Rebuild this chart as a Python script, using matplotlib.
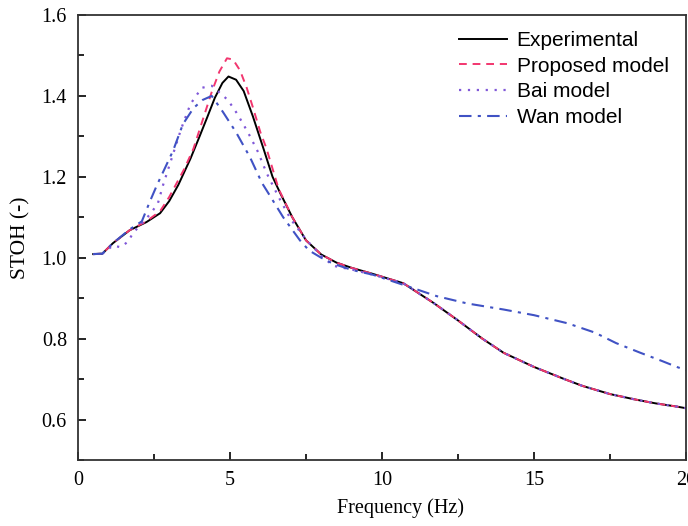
import numpy as np
import matplotlib
matplotlib.use("Agg")
import matplotlib.pyplot as plt
from matplotlib.ticker import MultipleLocator

# values
freq_exp = [0.5, 0.8, 1.15, 1.7, 2.25, 2.7, 3.0, 3.3, 3.7, 4.0, 4.25, 4.5, 4.75, 4.95,
            5.2, 5.45, 5.75, 6.1, 6.4, 6.65, 7.05, 7.5, 8.0, 8.5, 9.0, 9.7, 10.7, 11.7,
            12.5, 13.3, 14.0, 15.0, 16.0, 16.6, 17.5, 18.3, 19.0, 19.7, 20.0]
stoh_exp = [1.009, 1.01, 1.036, 1.068, 1.088, 1.11, 1.14, 1.18, 1.245, 1.30, 1.347, 1.395,
            1.432, 1.448, 1.44, 1.412, 1.35, 1.27, 1.20, 1.16, 1.10, 1.043, 1.008, 0.988,
            0.975, 0.96, 0.937, 0.888, 0.845, 0.80, 0.765, 0.73, 0.70, 0.683, 0.663, 0.65,
            0.64, 0.632, 0.628]

freq_prop = [0.5, 0.8, 1.15, 1.7, 2.25, 2.7, 3.0, 3.25, 3.5, 3.8, 4.1, 4.4, 4.65, 4.9,
             5.1, 5.33, 5.55, 5.76, 6.0, 6.2, 6.6, 7.05, 7.5, 8.0, 8.5, 9.0, 9.7, 10.7,
             11.7, 12.5, 13.3, 14.0, 15.0, 16.0, 16.6, 17.5, 18.3, 19.0, 19.7, 20.0]
stoh_prop = [1.009, 1.01, 1.036, 1.068, 1.09, 1.115, 1.15, 1.185, 1.22, 1.27, 1.34, 1.41,
             1.46, 1.493, 1.49, 1.463, 1.42, 1.37, 1.31, 1.27, 1.17, 1.10, 1.043, 1.008,
             0.988, 0.975, 0.96, 0.937, 0.888, 0.845, 0.80, 0.765, 0.73, 0.70, 0.683,
             0.663, 0.65, 0.64, 0.632, 0.628]

freq_bai = [0.5, 0.8, 1.15, 1.4, 1.65, 1.8, 2.1, 2.4, 2.63, 2.8, 3.1, 3.4, 3.7, 4.07,
            4.4, 4.7, 4.93, 5.2, 5.4, 5.66, 5.93, 6.2, 6.6, 7.0, 7.5, 8.0, 8.4, 9.05,
            9.7, 10.7, 11.7, 12.5, 13.3, 14.0, 15.0, 16.0, 16.6, 17.5, 18.3, 19.0,
            19.7, 20.0]
stoh_bai = [1.009, 1.01, 1.03, 1.026, 1.04, 1.06, 1.085, 1.11, 1.135, 1.18, 1.25, 1.32,
            1.38, 1.42, 1.425, 1.405, 1.39, 1.36, 1.335, 1.30, 1.26, 1.21, 1.15, 1.095,
            1.045, 1.005, 0.98, 0.97, 0.958, 0.937, 0.888, 0.845, 0.80, 0.765, 0.73,
            0.70, 0.683, 0.663, 0.65, 0.64, 0.632, 0.628]

freq_wan = [0.5, 0.8, 1.15, 1.7, 2.1, 2.37, 2.6, 2.85, 3.13, 3.45, 3.8, 4.1, 4.4, 4.77,
            5.2, 5.66, 6.05, 6.2, 6.75, 7.3, 7.6, 8.0, 8.4, 9.0, 9.7, 10.9, 11.8, 12.8,
            14.0, 15.0, 16.1, 17.0, 17.7, 18.5, 19.2, 19.7, 20.0]
stoh_wan = [1.009, 1.01, 1.036, 1.07, 1.09, 1.14, 1.18, 1.22, 1.265, 1.33, 1.37, 1.39,
            1.40, 1.36, 1.31, 1.248, 1.185, 1.167, 1.10, 1.043, 1.018, 1.0, 0.985,
            0.97, 0.958, 0.928, 0.905, 0.887, 0.872, 0.858, 0.838, 0.815, 0.789, 0.765,
            0.745, 0.73, 0.722]

fig = plt.figure(figsize=(6.88, 5.26), dpi=100)
ax = fig.add_axes([78/688, 66/526, 608/688, 445/526])

ax.plot(freq_exp, stoh_exp, '-', color='black', lw=1.4, label='Experimental')
ax.plot(freq_prop, stoh_prop, '--', color='#f2366f', lw=1.4, dashes=(4, 3),
        label='Proposed model')
ax.plot(freq_bai, stoh_bai, ':', color='#8058d8', lw=1.6, dashes=(1, 3),
        label='Bai model')
ax.plot(freq_wan, stoh_wan, '-.', color='#4052c4', lw=1.5, dashes=(6, 3, 1.5, 3),
        label='Wan model')

ax.set_xlim(0, 20)
ax.set_ylim(0.5, 1.6)
ax.xaxis.set_major_locator(MultipleLocator(5))
ax.xaxis.set_minor_locator(MultipleLocator(2.5))
ax.yaxis.set_minor_locator(MultipleLocator(0.1))
ax.set_yticks([0.6, 0.8, 1.0, 1.2, 1.4, 1.6])
ax.set_yticklabels(['0.6', '0.8', '1.0', '1.2', '1.4', '1.6'])
ax.tick_params(which='both', direction='in', top=False, right=False,
               labelsize=14.5, pad=8)
ax.tick_params(which='major', length=6, width=1.2)
ax.tick_params(which='minor', length=4, width=1.2)
for lab in ax.get_xticklabels() + ax.get_yticklabels():
    lab.set_family('Liberation Serif')
for s in ax.spines.values():
    s.set_linewidth(1.3)
    s.set_color('#333333')

ax.set_xlabel('Frequency (Hz)', family='Liberation Serif', fontsize=14.5, labelpad=9)
ax.xaxis.set_label_coords(0.53, -0.085)
ax.set_ylabel('STOH (-)', family='Liberation Serif', fontsize=15.5, labelpad=8)

ax.legend(loc='upper left', bbox_to_anchor=(0.617, 0.978), frameon=False,
          prop={'family': 'Liberation Sans', 'size': 15}, handlelength=2.3,
          handletextpad=0.45, labelspacing=0.32, borderaxespad=0, borderpad=0.3)

fig.savefig('out.png', dpi=100)
